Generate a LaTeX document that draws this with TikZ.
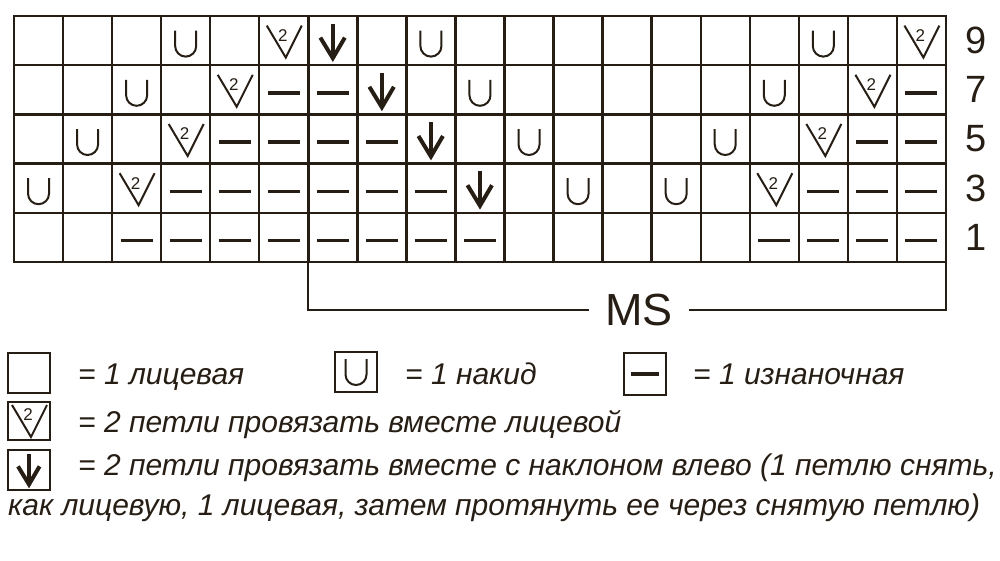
\documentclass[tikz,border=0pt]{standalone}
\usepackage{fontspec}
\setmainfont{Liberation Sans}
\newfontfamily\legfont{Liberation Sans}
\definecolor{ink}{RGB}{38,30,20}
\tikzset{
  gridline/.style={line width=2.4pt, draw=ink},
  bracketline/.style={line width=2pt, draw=ink},
  sym/.style={line width=2pt, draw=ink},
  legtext/.style={anchor=base west, inner sep=0pt, text=ink, font=\legfont\itshape\fontsize{30}{34}\selectfont},
  rownum/.style={text=ink, inner sep=0pt, font=\fontsize{38}{40}\selectfont},
  mslabel/.style={text=ink, inner ysep=0pt, inner xsep=16pt, font=\fontsize{45}{48}\selectfont},
  legbox/.style={draw=ink, line width=2pt, minimum width=42pt, minimum height=40pt, inner sep=0pt},
  pics/uloop/.style={code={
    \draw[sym] (-10.5,-10) -- (-10.5,5.5) arc[start angle=180, end angle=0, radius=10.5] -- (10.5,-10);}},
  pics/vtwo/.style={code={
    \draw[sym, line join=miter] (-17,-15) -- (2,17) -- (18,-15);
    \node[text=ink, inner sep=0pt, font=\fontsize{17}{17}\selectfont] (-two) at (-1,-5) {2};}},
  pics/darrow/.style={code={
    \draw[draw=ink, line width=4.6pt] (0,-17) -- (0,15);
    \draw[draw=ink, line width=4pt, line join=miter] (-12.5,-3) -- (0,17.5) -- (12,-3);}},
  pics/pdash/.style={code={
    \draw[draw=ink, line width=3.4pt] (-16,3) -- (16,3);}},
}
\begin{document}
\begin{tikzpicture}[x=1pt, y=-1pt]
\path[use as bounding box] (0,0) rectangle (1000,560);
% grid
\foreach \c in {1,...,18} \draw[gridline] ({14+49.05*\c},16) -- ({14+49.05*\c},262);
\foreach \r in {1,...,4} \draw[gridline] (14,{16+49.2*\r}) -- (946,{16+49.2*\r});
\draw[gridline] (14,16) rectangle (946,262);
% yarn overs
\foreach \c/\r in {4/1,9/1,17/1, 3/2,10/2,16/2, 2/3,11/3,15/3, 1/4,12/4,14/4}
  \pic at ({14+49.05*(\c-0.5)},{16+49.2*(\r-0.5)}) {uloop};
% k2tog
\foreach \c/\r in {6/1,19/1, 5/2,18/2, 4/3,17/3, 3/4,16/4}
  \pic at ({14+49.05*(\c-0.5)},{16+49.2*(\r-0.5)}) {vtwo};
% left-leaning dec
\foreach \c/\r in {7/1, 8/2, 9/3, 10/4}
  \pic at ({14+49.05*(\c-0.5)},{16+49.2*(\r-0.5)}) {darrow};
% purl
\foreach \c/\r in {6/2,7/2,19/2, 5/3,6/3,7/3,8/3,18/3,19/3,
                   4/4,5/4,6/4,7/4,8/4,9/4,17/4,18/4,19/4,
                   3/5,4/5,5/5,6/5,7/5,8/5,9/5,10/5,16/5,17/5,18/5,19/5}
  \pic at ({14+49.05*(\c-0.5)},{16+49.2*(\r-0.5)}) {pdash};
% row numbers
\foreach \n/\r in {9/1,7/2,5/3,3/4,1/5}
  \node[rownum] (row\n) at (976,{16+49.2*(\r-0.5)}) {\n};
% MS bracket
\coordinate (msl) at (308.3,262);
\coordinate (msr) at (946,262);
\node[mslabel] (ms) at (639,310) {MS};
\draw[bracketline] (msl) |- (ms.west);
\draw[bracketline] (ms.east) -| (msr);
% legend
\node[legbox] (lk) at (29,373) {};
\node[legtext] (tk) at (78,384) {= 1 лицевая};
\node[legbox] (lu) at (356,372) {};
\pic at (356,369) {uloop};
\node[legtext] (tu) at (405,384) {= 1 накид};
\node[legbox, minimum height=42pt] (lp) at (645,374) {};
\pic[xscale=0.85] at (645,371) {pdash};
\node[legtext] (tp) at (693,384) {= 1 изнаночная};
\node[legbox, minimum height=38pt] (lv) at (29,421) {};
\pic at (29,420) {vtwo};
\node[legtext] (tv) at (78,432) {= 2 петли провязать вместе лицевой};
\node[legbox] (la) at (29,470) {};
\pic[scale=0.88] at (29,469) {darrow};
\node[legtext] (ta) at (78,475) {= 2 петли провязать вместе с наклоном влево (1 петлю снять,};
\node[legtext] (ta2) at (8,515) {как лицевую, 1 лицевая, затем протянуть ее через снятую петлю)};
\end{tikzpicture}
\end{document}
